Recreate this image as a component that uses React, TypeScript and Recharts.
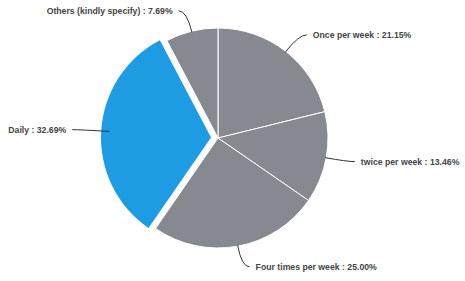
import React from "react";
import { PieChart, Pie, Cell } from "recharts";

const categories = [
  "Once per week",
  "twice per week",
  "Four times per week",
  "Daily",
  "Others (kindly specify)",
];
const percents = [21.15, 13.46, 25.0, 32.69, 7.69];
const percentLabels = ["21.15%", "13.46%", "25.00%", "32.69%", "7.69%"];
const explodedIndex = 3;

const GRAY = "#86898f";
const BLUE = "#1d9ce3";
const EXPLODE = 7;
const RADIUS = 110;
const CX = 218;
const CY = 138;

const data = categories.map((name, i) => ({ name, value: percents[i], label: percentLabels[i] }));

const RAD = Math.PI / 180;
const total = percents.reduce((a, b) => a + b, 0);
const midAngleOf = (idx: number) => {
  let before = 0;
  for (let i = 0; i < idx; i++) before += percents[i];
  const start = 90 - (before / total) * 360;
  const end = 90 - ((before + percents[idx]) / total) * 360;
  return (start + end) / 2;
};
const explodeMid = midAngleOf(explodedIndex);
const explodeDx = EXPLODE * Math.cos(explodeMid * RAD);
const explodeDy = -EXPLODE * Math.sin(explodeMid * RAD);

const renderLabel = (props: any) => {
  const { cx, cy, midAngle, outerRadius, index, name, payload } = props;
  const extra = index === explodedIndex ? EXPLODE : 0;
  const cos = Math.cos(-midAngle * RAD);
  const sin = Math.sin(-midAngle * RAD);
  const r0 = outerRadius + extra - (index === explodedIndex ? 8 : 1);
  const r1 = outerRadius + extra + 21;
  const x0 = cx + r0 * cos;
  const y0 = cy + r0 * sin;
  const x1 = cx + r1 * cos;
  const y1 = cy + r1 * sin;
  const dir = cos >= 0 ? 1 : -1;
  const x2 = x1 + dir * 8;
  const y2 = y1;
  const tx = x2 + dir * 6;
  const text = `${name} : ${payload.label ?? ""}`;
  return (
    <g key={`lbl-${index}`}>
      <path
        d={`M${x0},${y0} Q${x1},${y1} ${x2},${y2}`}
        stroke="#333"
        strokeWidth={1}
        fill="none"
      />
      <text
        x={tx}
        y={y2}
        textAnchor={dir > 0 ? "start" : "end"}
        dominantBaseline="central"
        fontFamily="Liberation Sans, Arial, sans-serif"
        fontWeight="bold"
        fontSize={8.7}
        fill="#444"
      >
        {text}
      </text>
    </g>
  );
};

export default function App() {
  return (
    <div style={{ position: "fixed", left: 0, top: 0, width: 465, height: 281, background: "#fff" }}>
      <PieChart width={465} height={281} margin={{ top: 0, right: 0, bottom: 0, left: 0 }}>
        <Pie
          data={data}
          dataKey="value"
          nameKey="name"
          cx={CX}
          cy={CY}
          outerRadius={RADIUS}
          startAngle={90}
          endAngle={-270}
          stroke="#ffffff"
          strokeWidth={1}
          isAnimationActive={false}
          label={renderLabel}
          labelLine={false}
        >
          {data.map((d, i) => (
            <Cell
              key={d.name}
              fill={i === explodedIndex ? "none" : GRAY}
              stroke={i === explodedIndex ? "none" : "#ffffff"}
            />
          ))}
        </Pie>
        <Pie
          data={data}
          dataKey="value"
          nameKey="name"
          cx={CX + explodeDx}
          cy={CY + explodeDy}
          outerRadius={RADIUS}
          startAngle={90}
          endAngle={-270}
          isAnimationActive={false}
          label={false}
          labelLine={false}
        >
          {data.map((d, i) => (
            <Cell
              key={d.name}
              fill={i === explodedIndex ? BLUE : "none"}
              stroke="none"
            />
          ))}
        </Pie>
      </PieChart>
    </div>
  );
}
